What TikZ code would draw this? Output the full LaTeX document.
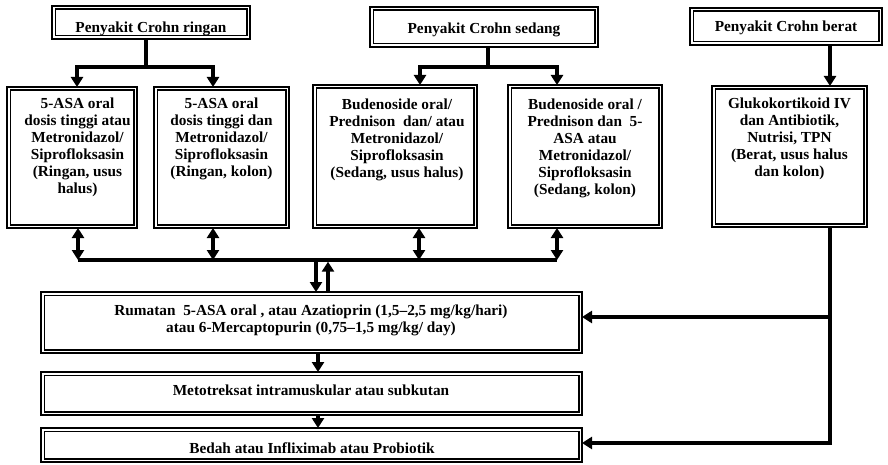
\documentclass[tikz,border=0pt]{standalone}
\usepackage{fontspec}
\setmainfont{Liberation Serif}
\usetikzlibrary{arrows.meta}
\begin{document}
\begin{tikzpicture}[x=1pt,y=-1pt,
  box/.style={draw, line width=1.4pt, inner sep=0pt, outer sep=0pt},
  innerframe/.style={line width=1.8pt},
  txt/.style={font=\fontsize{15.3}{17}\selectfont\bfseries, align=center, inner sep=0pt},
  conn/.style={line width=3.4pt},
  tip/.style={-{Triangle[width=12pt,length=10pt]}},
  dtip/.style={{Triangle[width=12pt,length=10pt]}-{Triangle[width=12pt,length=10pt]}}]
\useasboundingbox (0,0) rectangle (888,465);
% top row
\node[box, minimum width=198pt, minimum height=33pt] (ringan) at (151,22.5) {};
\node[box, minimum width=228pt, minimum height=40pt] (sedang) at (484,27) {};
\node[box, minimum width=192pt, minimum height=37pt] (berat) at (786,26.5) {};
\node[txt, anchor=base] (tringan) at (151,33) {Penyakit Crohn ringan};
\node[txt, anchor=base] (tsedang) at (484,33.5) {Penyakit Crohn sedang};
\node[txt, anchor=base] (tberat) at (786,32) {Penyakit Crohn berat};
% second row
\node[box, minimum width=130pt, minimum height=141pt] (b1) at (72,157.5) {};
\node[box, minimum width=135pt, minimum height=141pt] (b2) at (221.5,157.5) {};
\node[box, minimum width=164pt, minimum height=143pt] (b3) at (395,156.5) {};
\node[box, minimum width=154pt, minimum height=143pt] (b4) at (585,156.5) {};
\node[box, minimum width=155pt, minimum height=141pt] (b5) at (789.5,156.5) {};
\node[txt, anchor=north] (t1) at (77.5,97.5) {5-ASA oral\\dosis tinggi atau\\Metronidazol/\\Siprofloksasin\\(Ringan, usus\\halus)};
\node[txt, anchor=north] (t2) at (221.5,97.5) {5-ASA oral\\dosis tinggi dan\\Metronidazol/\\Siprofloksasin\\(Ringan, kolon)};
\node[txt, anchor=north] (t3) at (397,98.5) {Budenoside oral/\\Prednison\ \ dan/ atau\\Metronidazol/\\Siprofloksasin\\(Sedang, usus halus)};
\node[txt, anchor=north] (t4) at (585,98.5) {Budenoside oral /\\Prednison dan\ \ 5-\\ASA atau\\Metronidazol/\\Siprofloksasin\\(Sedang, kolon)};
\node[txt, anchor=north] (t5) at (789.5,97.5) {Glukokortikoid IV\\dan Antibiotik,\\Nutrisi, TPN\\(Berat, usus halus\\dan kolon)};
% bottom boxes
\node[box, minimum width=541pt, minimum height=61pt] (rum) at (311.5,322.5) {};
\node[box, minimum width=541pt, minimum height=43pt] (meto) at (311.5,393.5) {};
\node[box, minimum width=541pt, minimum height=34pt] (bedah) at (311.5,445) {};
\node[txt, anchor=north] (trum) at (311,304.5) {Rumatan\ \ 5-ASA oral , atau Azatioprin (1,5–2,5 mg/kg/hari)\\atau 6-Mercaptopurin (0,75–1,5 mg/kg/ day)};
\node[txt, anchor=base] (tmeto) at (311,395) {Metotreksat intramuskular atau subkutan};
\node[txt, anchor=base] (tbedah) at (312,453) {Bedah atau Infliximab atau Probiotik};
% inner frames
\foreach \n in {ringan,sedang,berat,b1,b2,b3,b4,b5,rum,meto,bedah}
  \draw[innerframe] ([shift={(3.4pt,-3.4pt)}]\n.north west) rectangle ([shift={(-3.4pt,3.4pt)}]\n.south east);
% junction coordinates
\coordinate (rs) at (146,67);
\coordinate (rl) at (77,67);
\coordinate (rr) at (213,67);
\coordinate (ss) at (488,67);
\coordinate (sl) at (420,67);
\coordinate (sr) at (557,67);
\coordinate (bx) at (830,67);
\coordinate (c1) at (78,260);
\coordinate (c2) at (213,260);
\coordinate (c3) at (419,260);
\coordinate (c4) at (557,260);
\coordinate (dn) at (316,260);
\coordinate (up) at (328,260);
\coordinate (vr1) at (830,317);
\coordinate (vr2) at (830,443);
\coordinate (mx) at (318,400);
% top connectors
\draw[conn] (ringan.south -| rs) -- (rs);
\draw[conn,dtip] (b1.north -| rl) -- (rl) -- (rr) -- (b2.north -| rr);
\draw[conn] (sedang.south -| ss) -- (ss);
\draw[conn,dtip] (b3.north -| sl) -- (sl) -- (sr) -- (b4.north -| sr);
\draw[conn,tip] (berat.south -| bx) -- (b5.north -| bx);
% bus
\draw[conn] (c1) -- (c4);
\draw[conn,dtip] (b1.south -| c1) -- (c1);
\draw[conn,dtip] (b2.south -| c2) -- (c2);
\draw[conn,dtip] (b3.south -| c3) -- (c3);
\draw[conn,dtip] (b4.south -| c4) -- (c4);
\draw[conn,tip] (dn) -- (rum.north -| dn);
\draw[conn,tip] (rum.north -| up) -- ([yshift=-1.7pt]up);
% right side
\draw[conn,tip] (b5.south -| vr2) -- (vr2) -- (bedah.east |- vr2);
\draw[conn,tip] (vr1) -- (rum.east |- vr1);
% bottom chain
\draw[conn,tip] (rum.south -| mx) -- (meto.north -| mx);
\draw[conn,tip] (meto.south -| mx) -- (bedah.north -| mx);
\end{tikzpicture}
\end{document}
